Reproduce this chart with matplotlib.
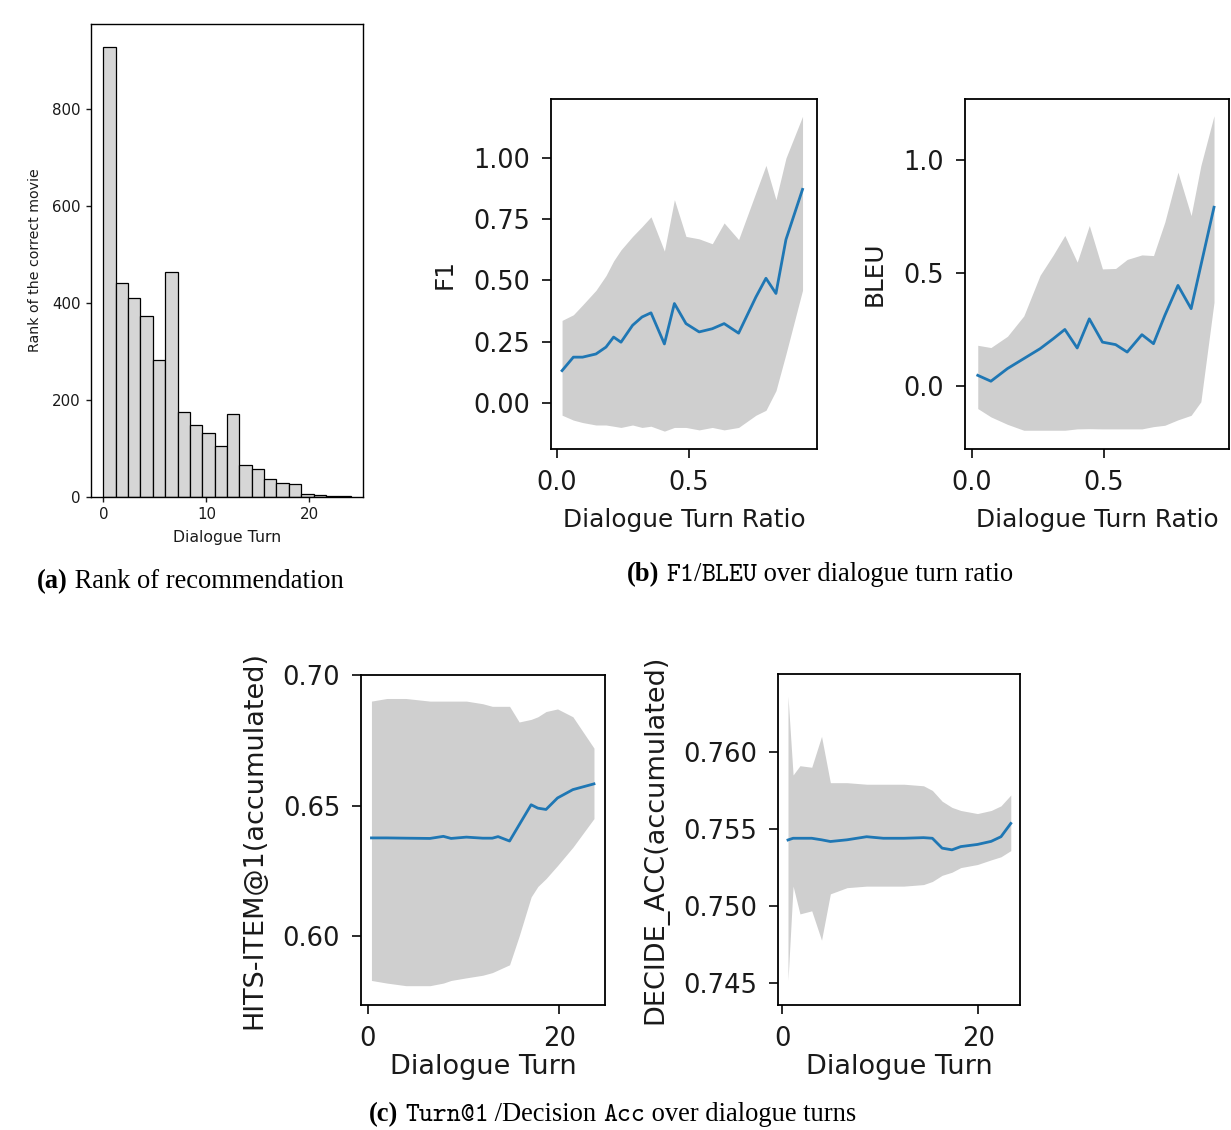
import matplotlib
matplotlib.use("Agg")
import matplotlib.pyplot as plt
import numpy as np

# (a) histogram of the rank of the correct movie per dialogue turn
hist_edges = [0, 1.2, 2.4, 3.6, 4.8, 6.0, 7.2, 8.4, 9.6, 10.8, 12.0,
              13.2, 14.4, 15.6, 16.8, 18.0, 19.2, 20.4, 21.6, 22.8, 24.0]
hist_counts = [928, 442, 410, 374, 282, 463, 175, 149, 131, 106,
               171, 66, 58, 38, 29, 27, 6, 4, 2, 2]

# (b) F1 over dialogue turn ratio
f1_x = [0.019, 0.062, 0.097, 0.148, 0.186, 0.215, 0.243, 0.287, 0.323, 0.357, 0.408,
        0.446, 0.49, 0.54, 0.59, 0.635, 0.69, 0.756, 0.794, 0.832, 0.87, 0.933]
f1_mean = [0.132, 0.187, 0.187, 0.20, 0.228, 0.269, 0.248, 0.317, 0.351, 0.368, 0.241,
           0.406, 0.324, 0.29, 0.303, 0.324, 0.285, 0.433, 0.509, 0.447, 0.667, 0.872]
f1_upper = [0.337, 0.36, 0.40, 0.46, 0.52, 0.58, 0.625, 0.68, 0.72, 0.76, 0.62,
            0.83, 0.68, 0.67, 0.65, 0.735, 0.667, 0.86, 0.97, 0.83, 1.0, 1.17]
f1_lower = [-0.05, -0.07, -0.08, -0.09, -0.09, -0.095, -0.10, -0.09, -0.10, -0.095, -0.115,
            -0.10, -0.10, -0.11, -0.10, -0.11, -0.10, -0.05, -0.03, 0.05, 0.20, 0.46]

# (b) BLEU over dialogue turn ratio
bleu_x = [0.022, 0.072, 0.135, 0.197, 0.259, 0.309, 0.353, 0.40, 0.446, 0.496,
          0.546, 0.59, 0.646, 0.69, 0.733, 0.783, 0.833, 0.87, 0.92]
bleu_mean = [0.047, 0.021, 0.077, 0.121, 0.165, 0.209, 0.25, 0.168, 0.297, 0.194,
             0.183, 0.15, 0.227, 0.187, 0.312, 0.445, 0.342, 0.533, 0.791]
bleu_upper = [0.18, 0.17, 0.22, 0.31, 0.49, 0.58, 0.666, 0.548, 0.71, 0.518,
              0.52, 0.56, 0.58, 0.577, 0.725, 0.946, 0.754, 0.975, 1.196]
bleu_lower = [-0.10, -0.137, -0.17, -0.196, -0.196, -0.196, -0.196, -0.19, -0.189, -0.19,
              -0.19, -0.19, -0.19, -0.18, -0.174, -0.15, -0.13, -0.07, 0.37]

# (c) HITS-ITEM@1 (accumulated) over dialogue turns
hits_x = [0.4, 2, 4, 6.5, 7.9, 8.7, 10.3, 12, 13, 13.6, 14.8, 15.8, 17.05, 17.75,
          18.6, 19.8, 21.4, 23.6]
hits_mean = [0.6376, 0.6376, 0.6375, 0.6374, 0.6382, 0.6374, 0.6379, 0.6375, 0.6375,
             0.6381, 0.6364, 0.6426, 0.6503, 0.649, 0.6485, 0.6529, 0.6561, 0.6583]
hits_upper = [0.690, 0.691, 0.691, 0.690, 0.690, 0.690, 0.690, 0.689, 0.688, 0.688,
              0.688, 0.682, 0.683, 0.684, 0.686, 0.687, 0.684, 0.672]
hits_lower = [0.583, 0.582, 0.581, 0.581, 0.582, 0.583, 0.584, 0.585, 0.586, 0.587,
              0.589, 0.600, 0.615, 0.619, 0.622, 0.627, 0.634, 0.645]

# (c) DECIDE_ACC (accumulated) over dialogue turns
dec_x = [0.58, 1.1, 1.8, 3.0, 4.0, 4.9, 6.6, 8.6, 10.3, 12.4, 14.4, 15.3, 16.3,
         17.3, 18.2, 19.9, 21.3, 22.3, 23.3]
dec_mean = [0.75429, 0.7544, 0.7544, 0.7544, 0.7543, 0.75419, 0.7543, 0.7545, 0.7544,
            0.7544, 0.75444, 0.7544, 0.75376, 0.75365, 0.75386, 0.7540, 0.7542, 0.7545,
            0.75536]
dec_upper = [0.7636, 0.7585, 0.7591, 0.7590, 0.7610, 0.7580, 0.7580, 0.7579, 0.7579,
             0.7579, 0.7578, 0.7575, 0.7568, 0.7564, 0.7562, 0.7560, 0.7562, 0.7565,
             0.7572]
dec_lower = [0.7452, 0.7513, 0.7495, 0.7497, 0.7478, 0.7508, 0.7512, 0.7513, 0.7513,
             0.7513, 0.7514, 0.7516, 0.7520, 0.7522, 0.7525, 0.7527, 0.7530, 0.7532,
             0.7536]

W, H = 1231, 1130
SANS = "DejaVu Sans"
INK = "#1a1a1a"
BAND = "#cfcfcf"
LINE = "#1f77b4"

fig = plt.figure(figsize=(W / 100, H / 100), dpi=100)


def px_axes(left, top, right, bottom):
    return fig.add_axes([left / W, 1 - bottom / H, (right - left) / W, (bottom - top) / H])


def style(ax, size, lw=1.3, length=6.5, pad=8.5):
    for sp in ax.spines.values():
        sp.set_linewidth(lw)
    ax.tick_params(labelsize=size, length=length, width=lw, pad=pad,
                   color=INK, labelcolor=INK)
    for lab in ax.get_xticklabels() + ax.get_yticklabels():
        lab.set_family(SANS)


# ---- (a) histogram
ax = px_axes(91, 24, 363, 497)
ax.bar(hist_edges[:-1], hist_counts, width=np.diff(hist_edges), align="edge",
       color="#d6d6d6", edgecolor="black", linewidth=0.9)
ax.set_xlim(-1.2, 25.2)
ax.set_ylim(0, 975)
ax.set_xticks([0, 10, 20])
ax.set_yticks([0, 200, 400, 600, 800])
ax.set_xlabel("Dialogue Turn", family=SANS, fontsize=11.3, color=INK, labelpad=5.5)
ax.set_ylabel("Rank of the correct movie", family=SANS, fontsize=10.2, color=INK, labelpad=7)
style(ax, 10.8, lw=1.0, length=3.5, pad=4)


def band_plot(ax, x, mean, lo, hi):
    ax.fill_between(x, lo, hi, color=BAND, linewidth=0)
    ax.plot(x, mean, color=LINE, linewidth=2)


# ---- (b) F1
ax = px_axes(551, 99, 817, 449)
band_plot(ax, f1_x, f1_mean, f1_lower, f1_upper)
ax.set_xlim(-0.023, 0.988)
ax.set_ylim(-0.188, 1.241)
ax.set_xticks([0, 0.5])
ax.set_xticklabels(["0.0", "0.5"])
ax.set_yticks([0, 0.25, 0.5, 0.75, 1.0])
ax.set_yticklabels(["0.00", "0.25", "0.50", "0.75", "1.00"])
ax.set_xlabel("Dialogue Turn Ratio", family=SANS, fontsize=17.8, color=INK, labelpad=9)
ax.set_ylabel("F1", family=SANS, fontsize=17.8, color=INK, labelpad=12)
style(ax, 18.4)

# ---- (b) BLEU
ax = px_axes(965, 99, 1229, 449)
band_plot(ax, bleu_x, bleu_mean, bleu_lower, bleu_upper)
ax.set_xlim(-0.0265, 0.977)
ax.set_ylim(-0.279, 1.27)
ax.set_xticks([0, 0.5])
ax.set_xticklabels(["0.0", "0.5"])
ax.set_yticks([0, 0.5, 1.0])
ax.set_yticklabels(["0.0", "0.5", "1.0"])
ax.set_xlabel("Dialogue Turn Ratio", family=SANS, fontsize=17.8, color=INK, labelpad=9)
ax.set_ylabel("BLEU", family=SANS, fontsize=17.8, color=INK, labelpad=12)
style(ax, 18.4)

# ---- (c) HITS
ax = px_axes(361, 675, 605, 1005)
band_plot(ax, hits_x, hits_mean, hits_lower, hits_upper)
ax.set_xlim(-0.69, 24.75)
ax.set_ylim(0.5736, 0.70)
ax.set_xticks([0, 20])
ax.set_yticks([0.60, 0.65, 0.70])
ax.set_yticklabels(["0.60", "0.65", "0.70"])
ax.set_xlabel("Dialogue Turn", family=SANS, fontsize=19.5, color=INK, labelpad=1.5)
ax.set_ylabel("HITS-ITEM@1(accumulated)", family=SANS, fontsize=19.5, color=INK, labelpad=11)
style(ax, 18.6)

# ---- (c) DECIDE_ACC
ax = px_axes(778, 674, 1020, 1005)
band_plot(ax, dec_x, dec_mean, dec_lower, dec_upper)
ax.set_xlim(-0.44, 24.24)
ax.set_ylim(0.7436, 0.76504)
ax.set_xticks([0, 20])
ax.set_yticks([0.745, 0.750, 0.755, 0.760])
ax.set_yticklabels(["0.745", "0.750", "0.755", "0.760"])
ax.set_xlabel("Dialogue Turn", family=SANS, fontsize=19.5, color=INK, labelpad=1.5)
ax.set_ylabel("DECIDE_ACC(accumulated)", family=SANS, fontsize=19.5, color=INK, labelpad=11)
style(ax, 18.6)

# ---- captions (serif text with typewriter pieces)
cap = fig.add_axes([0, 0, 1, 1])
cap.set_axis_off()
SERIF = "Liberation Serif"
MONO = "cmtt10"
CAP = 19.1


def caption(x, y, pieces):
    prev = None
    for txt, fam, weight in pieces:
        if prev is None:
            prev = cap.text(x / W, 1 - y / H, txt, family=fam, weight=weight, fontsize=CAP,
                            ha="left", va="baseline", transform=cap.transAxes)
        else:
            prev = cap.annotate(txt, xy=(1, 0), xycoords=prev, family=fam, weight=weight,
                                fontsize=CAP, ha="left", va="bottom", annotation_clip=False)


caption(37, 588, [("(a)", SERIF, "bold"), (" Rank of recommendation", SERIF, "normal")])
caption(627, 581, [("(b)", SERIF, "bold"), (" ", SERIF, "normal"), ("F1", MONO, "normal"),
                   ("/", SERIF, "normal"), ("BLEU", MONO, "normal"),
                   (" over dialogue turn ratio", SERIF, "normal")])
caption(369, 1121, [("(c)", SERIF, "bold"), (" ", SERIF, "normal"), ("Turn@1", MONO, "normal"),
                    (" /Decision ", SERIF, "normal"), ("Acc", MONO, "normal"),
                    (" over dialogue turns", SERIF, "normal")])

fig.savefig("out.png", dpi=100)
